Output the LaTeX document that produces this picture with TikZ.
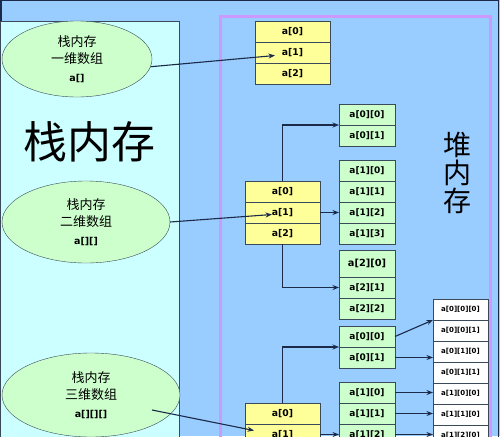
\documentclass[tikz,border=0pt]{standalone}
\usepackage{fontspec}
\setmainfont{DejaVu Sans}
\newfontfamily\cjk{Noto Sans CJK SC}
\usepackage{xcolor}
\usetikzlibrary{positioning, shapes.geometric, arrows.meta}
\definecolor{heapbg}{HTML}{99CCFF}
\definecolor{stackbg}{HTML}{CCFFFF}
\definecolor{heapline}{HTML}{CC99FF}
\definecolor{ovalgreen}{HTML}{CCFFCC}
\definecolor{cellyellow}{HTML}{FFFF99}
\definecolor{cellgreen}{HTML}{CCFFCC}
\definecolor{linenavy}{HTML}{1A2A48}
\definecolor{boxline}{HTML}{3A4A5A}

\begin{document}
\begin{tikzpicture}[
      x=1pt, y=-1pt,
      node distance=0pt,
      >={Stealth[length=6.5pt,width=5pt]},
      cellY/.style={draw=boxline, fill=cellyellow, minimum width=75pt, minimum height=21pt, inner sep=0pt, outer sep=0pt, font=\bfseries\fontsize{9.3}{10}\selectfont},
      cellG/.style={draw=boxline, fill=cellgreen, minimum width=56pt, minimum height=21pt, inner sep=0pt, outer sep=0pt, font=\bfseries\fontsize{9}{10}\selectfont},
      cellW/.style={draw=boxline, fill=white, minimum width=55pt, minimum height=21pt, inner sep=0pt, outer sep=0pt, font=\bfseries\fontsize{7}{8}\selectfont},
      oval/.style={ellipse, draw=boxline, fill=ovalgreen, align=center, inner sep=0pt, font=\fontsize{13}{17.5}\selectfont},
      line/.style={->, line width=1.1pt, draw=linenavy}
    ]
    \useasboundingbox (0,0) rectangle (500,436);
    \clip (0,0) rectangle (500,436);
    \fill[heapbg] (0,0) rectangle (500,436);
    \draw[linenavy, line width=1.5pt] (0.75,0.75) rectangle (498.5,460);
    \draw[boxline, fill=stackbg] (0.5,21) rectangle (179,460);
    \draw[heapline, line width=3pt] (220,16.5) rectangle (490,460);

    \node[font=\cjk\fontsize{44}{44}\selectfont] (stack) at (89,142) {栈内存};
    \node[align=center, font=\cjk\fontsize{28}{28}\selectfont] (heap) at (457,173) {堆\\内\\存};

    \node[oval, minimum width=150pt, minimum height=76pt] (one) at (77,59) {{\cjk 栈内存}\\{\cjk 一维数组}\\{\bfseries\fontsize{9.5}{17.5}\selectfont a[]}};
    \node[oval, minimum width=168pt, minimum height=82pt] (two) at (86,222) {{\cjk 栈内存}\\{\cjk 二维数组}\\{\bfseries\fontsize{9.5}{17.5}\selectfont a[][]}};
    \node[oval, minimum width=178pt, minimum height=84pt] (three) at (91,395) {{\cjk 栈内存}\\{\cjk 三维数组}\\{\bfseries\fontsize{9.5}{17.5}\selectfont a[][][]}};

    \node[cellY] (oA0) at (292.5,31.5) {a[0]};
    \node[cellY, below=of oA0] (oA1) {a[1]};
    \node[cellY, below=of oA1] (oA2) {a[2]};

    \node[cellY] (tA0) at (282.5,191.5) {a[0]};
    \node[cellY, below=of tA0] (tA1) {a[1]};
    \node[cellY, below=of tA1] (tA2) {a[2]};
    \node[cellG] (tB00) at (367,114.5) {a[0][0]};
    \node[cellG, below=of tB00] (tB01) {a[0][1]};
    \node[cellG] (tB10) at (367,170.5) {a[1][0]};
    \node[cellG, below=of tB10] (tB11) {a[1][1]};
    \node[cellG, below=of tB11] (tB12) {a[1][2]};
    \node[cellG, below=of tB12] (tB13) {a[1][3]};
    \node[cellG, minimum height=27pt, font=\bfseries\fontsize{9.8}{10}\selectfont] (tB20) at (367,263.5) {a[2][0]};
    \node[cellG, below=of tB20] (tB21) {a[2][1]};
    \node[cellG, below=of tB21] (tB22) {a[2][2]};

    \node[cellY] (hA0) at (282.5,413.5) {a[0]};
    \node[cellY, below=of hA0] (hA1) {a[1]};
    \node[cellG] (hB00) at (367,336.5) {a[0][0]};
    \node[cellG, below=of hB00] (hB01) {a[0][1]};
    \node[cellG] (hB10) at (367,392.5) {a[1][0]};
    \node[cellG, below=of hB10] (hB11) {a[1][1]};
    \node[cellG, below=of hB11] (hB12) {a[1][2]};
    \node[cellW] (hC00) at (460.5,309.5) {a[0][0][0]};
    \node[cellW, below=of hC00] (hC01) {a[0][0][1]};
    \node[cellW, below=of hC01] (hC02) {a[0][1][0]};
    \node[cellW, below=of hC02] (hC03) {a[0][1][1]};
    \node[cellW, below=of hC03] (hC04) {a[1][0][0]};
    \node[cellW, below=of hC04] (hC05) {a[1][1][0]};
    \node[cellW, below=of hC05] (hC06) {a[1][2][0]};

    \draw[line] (one.-6) -- ([xshift=20pt,yshift=-3pt]oA1.west);
    \draw[line] (two.east) -- ([xshift=27pt,yshift=-2pt]tA1.west);
    \draw[line] ([shift={(61pt,-15pt)}]three.center) -- ([xshift=9pt,yshift=4pt]hA1.west);

    \draw[line] (tA0.north) |- (tB00.south west);
    \draw[line] (tA1.east) -- (tA1.east -| tB12.west);
    \draw[line] (tA2.south) |- (tB21.west);

    \draw[line] (hA0.north) |- (hB00.south west);
    \draw[line] (hA1.east) -- (hA1.east -| hB12.west);
    \draw[line] (hB00.east) -- (hC00.south west);
    \draw[line] (hB01.east) -- (hB01.east -| hC02.west);
    \draw[line] (hB10.east) -- (hB10.east -| hC04.west);
    \draw[line] (hB11.east) -- (hB11.east -| hC05.west);
    \draw[line] (hB12.east) -- (hB12.east -| hC06.west);
  \end{tikzpicture}
\end{document}
